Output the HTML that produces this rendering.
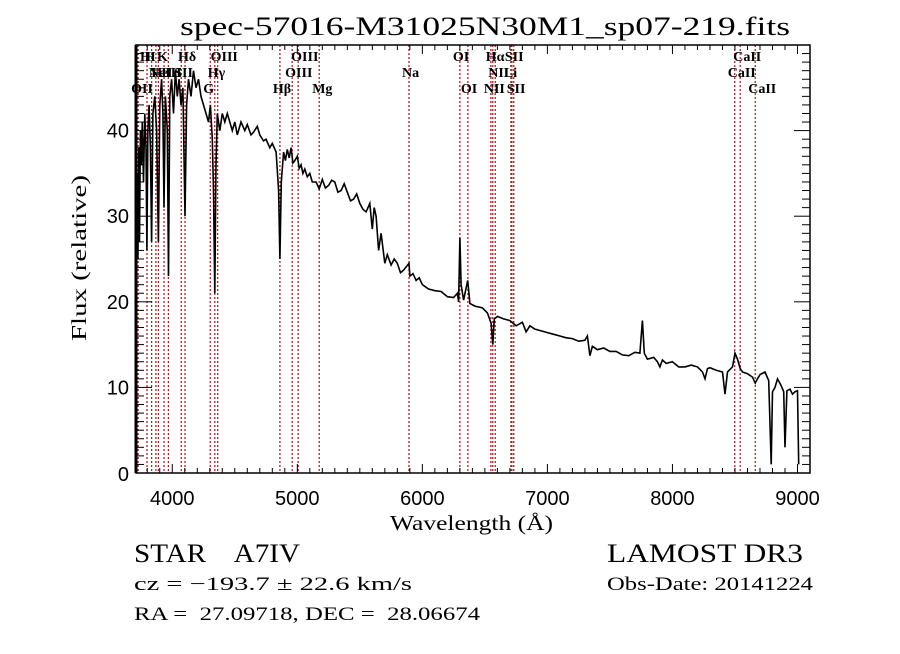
<!DOCTYPE html>
<html><head><meta charset="utf-8"><style>
html,body{margin:0;padding:0;background:#fff;}
svg text{font-family:"Liberation Serif",serif;fill:#000;white-space:pre;}
</style></head><body>
<svg id="chart" width="900" height="649" viewBox="0 0 900 649" xmlns="http://www.w3.org/2000/svg" xml:space="preserve">
<rect width="900" height="649" fill="#fff"/>
<text x="180" y="35" font-size="26" textLength="610" lengthAdjust="spacingAndGlyphs">spec-57016-M31025N30M1_sp07-219.fits</text>
<g id="lines"></g>
<g id="spec"></g>
<g id="axes"></g>
<g id="labels"></g>
<text x="390" y="530" font-size="21" textLength="163" lengthAdjust="spacingAndGlyphs">Wavelength (Å)</text>
<text transform="translate(86,341) rotate(-90)" font-size="21" textLength="166" lengthAdjust="spacingAndGlyphs">Flux (relative)</text>
<text x="134" y="562" font-size="26" textLength="166" lengthAdjust="spacingAndGlyphs">STAR    A7IV</text>
<text x="607" y="562" font-size="26" textLength="196" lengthAdjust="spacingAndGlyphs">LAMOST DR3</text>
<text x="134" y="590" font-size="19" textLength="278" lengthAdjust="spacingAndGlyphs">cz = −193.7 ± 22.6 km/s</text>
<text x="607" y="590" font-size="19" textLength="206" lengthAdjust="spacingAndGlyphs">Obs-Date: 20141224</text>
<text x="134" y="620" font-size="19" textLength="346" lengthAdjust="spacingAndGlyphs">RA =  27.09718, DEC =  28.06674</text>
</svg>
<script>
const wl=[3705,3708,3712,3718,3725,3732,3738,3745,3752,3760,3770,3780,3790,3797,3805,3815,3825,3835,3845,3860,3875,3889,3900,3915,3925,3934,3945,3960,3970,3980,3995,4010,4025,4040,4055,4070,4085,4102,4115,4130,4150,4170,4190,4210,4230,4250,4270,4290,4305,4320,4330,4340,4350,4360,4380,4400,4420,4440,4460,4480,4500,4520,4550,4580,4600,4630,4650,4680,4700,4730,4750,4780,4800,4830,4850,4861,4872,4890,4905,4920,4935,4950,4965,4980,5000,5015,5030,5045,5060,5080,5100,5120,5150,5175,5200,5225,5250,5275,5300,5325,5350,5375,5400,5425,5450,5475,5500,5525,5550,5580,5600,5615,5630,5650,5670,5700,5720,5750,5775,5800,5825,5850,5893,5900,5925,5950,5975,6000,6050,6100,6150,6200,6250,6280,6290,6300,6310,6330,6363,6380,6420,6480,6520,6550,6563,6575,6600,6650,6700,6750,6800,6830,6860,6900,6950,7000,7050,7100,7150,7200,7250,7300,7320,7340,7360,7400,7450,7500,7550,7600,7650,7700,7740,7760,7775,7800,7850,7880,7900,7920,7950,8000,8050,8100,8150,8200,8240,8260,8280,8300,8350,8400,8420,8440,8480,8500,8520,8542,8560,8600,8640,8662,8680,8700,8740,8770,8790,8800,8820,8840,8870,8890,8900,8915,8940,8960,8980,9000,9010];
const flux=[2,14,28,35,25,38,27,40,36,41,34,42,38,26,40,43,38,27,42,44,40,27,43,46,42,31,44,40,23,44,46,42,47,44,46,43,45,30,43,46,44,47,45,46,44,43,42,41,43,39,33,21,36,42,40,42,41,42,41,40,41,39.5,41,40,40.7,39.5,39.8,40.5,39.5,38.8,39,38,38.5,37.5,33,25,34,37.5,36.5,37.8,36.8,38,36.2,36.5,37,35.6,36,35,35.5,34.6,35,34,34,33.2,34.3,33.3,33.6,34.2,34,32.8,33,33.8,32.8,31.8,32,32.6,31.5,30.8,30.5,31.5,28.5,31,30,26,28,24.5,25.5,24.3,25,24.5,23.4,23.7,24.5,23,23.3,22.5,22.8,22,21.5,21.3,21.2,20.6,20.5,21,20,27.5,22,20.2,22.5,19.8,19.5,19.3,18.7,17.5,15,18,18.3,18,17.8,17.2,17.6,16.5,17.2,16.8,16.6,16.4,16.2,16,15.8,15.7,15.4,15.5,16,13.7,14.8,14.4,14.6,14.2,14.2,13.8,13.7,14.1,14,17.8,14,13.3,13.5,13,12.4,13.2,12.8,13,12.4,12.4,12.6,12.4,11.8,11,12.2,12.3,12,11.8,9.2,11.8,12.4,14,13.3,12.2,11.8,11.6,11.2,10.5,11,11.5,11.8,10.8,1,9.5,10,11,10.2,9.5,3,9.6,9.8,9.2,9.5,9.6,1];
const lineWl=[3727,3798,3835,3869,3889,3934,3969,4072,4102,4304,4340,4363,4861,4959,5007,5175,5893,6300,6364,6548,6563,6583,6708,6716,6731,8498,8542,8662];
const lineNames=["OII","H","H","NeIII","He","K","H","SII","Hδ","G","Hγ","OIII","Hβ","OIII","OIII","Mg","Na","OI","OI","NII","Hα","NII","Li","SII","SII","CaII","CaII","CaII"];
const labelRow=[2,0,0,1,1,0,1,1,0,2,1,0,2,1,0,2,1,0,2,2,0,1,1,0,2,1,0,2];
const xTicks=[4000,5000,6000,7000,8000,9000];
const yTicks=[0,10,20,30,40];
const X0=136,X1=810,Y0=473,Y1=45,WMIN=3710,WMAX=9100,FMIN=0,FMAX=50;
const xs=w=>X0+(w-WMIN)/(WMAX-WMIN)*(X1-X0);
const ys=f=>Y0-(f-FMIN)/(FMAX-FMIN)*(Y0-Y1);
const NS='http://www.w3.org/2000/svg';
function mk(t,a,p){const e=document.createElementNS(NS,t);for(const k in a)e.setAttribute(k,a[k]);p.appendChild(e);return e;}
const gL=document.getElementById('lines'),gS=document.getElementById('spec'),gA=document.getElementById('axes'),gT=document.getElementById('labels');
lineWl.forEach((w,i)=>{
 const l=mk('line',{x1:xs(w),x2:xs(w),y1:Y1,y2:Y0,stroke:'#b22222','stroke-width':1.3,'stroke-dasharray':'2,2'},gL);
 
 
 const t=mk('text',{x:xs(w)-7,y:61+labelRow[i]*16,'font-size':14,'font-weight':'bold'},gT);
 t.textContent=lineNames[i];
 
 
});
let pts=wl.map((w,i)=>xs(w).toFixed(1)+','+ys(flux[i]).toFixed(1)).join(' ');
const pl=mk('polyline',{points:pts,fill:'none',stroke:'#000','stroke-width':1.6,'stroke-linejoin':'miter'},gS);


const fr=mk('rect',{x:X0,y:Y1,width:X1-X0,height:Y0-Y1,fill:'none',stroke:'#000','stroke-width':1.5},gA);


mk('line',{x1:X0,x2:X0,y1:Y1,y2:Y0,stroke:'#000','stroke-width':3},gA);
for(let w=3800;w<=WMAX;w+=100){const maj=w%1000===0;const L=maj?9:5;
 mk('line',{x1:xs(w),x2:xs(w),y1:Y0,y2:Y0-L,stroke:'#000'},gA);
 mk('line',{x1:xs(w),x2:xs(w),y1:Y1,y2:Y1+L,stroke:'#000'},gA);}
for(let f=1;f<FMAX;f++){const maj=f%10===0;const L=maj?16:8;
 mk('line',{x1:X0,x2:X0+L,y1:ys(f),y2:ys(f),stroke:'#000'},gA);
 mk('line',{x1:X1,x2:X1-L,y1:ys(f),y2:ys(f),stroke:'#000'},gA);}
xTicks.forEach(v=>{const t=mk('text',{x:xs(v),y:505,'font-size':20,'text-anchor':'middle','style':'font-family:"Liberation Sans",sans-serif'},gA);t.textContent=v;
 
 });
yTicks.forEach(v=>{const t=mk('text',{x:129,y:ys(v)+7-(v===0?-1:0),'font-size':20,'text-anchor':'end','style':'font-family:"Liberation Sans",sans-serif'},gA);t.textContent=v;
 
 });
</script>
</body></html>
